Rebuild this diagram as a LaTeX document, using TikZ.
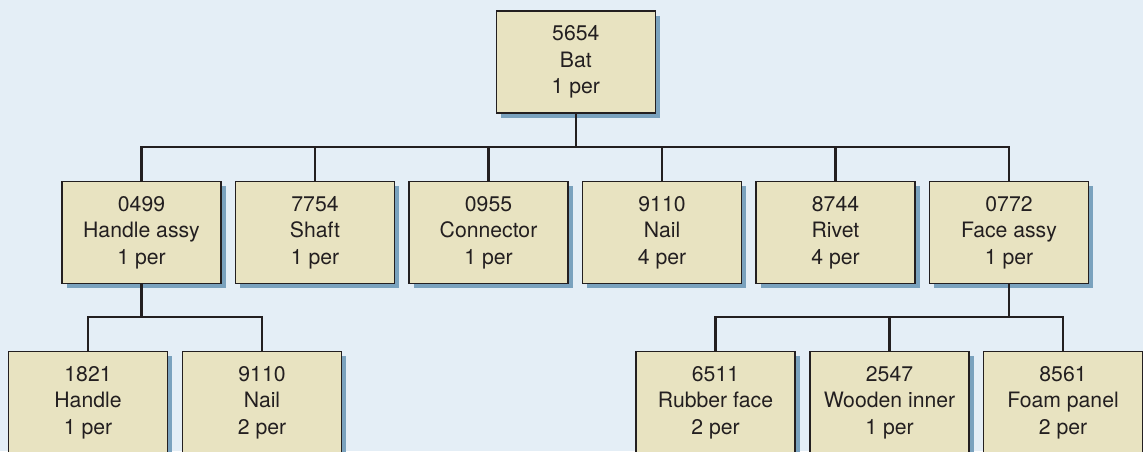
\documentclass[tikz,border=0pt]{standalone}
\usepackage{fontspec}
\setmainfont{TeX Gyre Heros}
\usetikzlibrary{shadows}
\definecolor{bgc}{RGB}{228,238,246}
\definecolor{boxc}{RGB}{232,227,193}
\definecolor{shadc}{RGB}{122,162,190}
\definecolor{linec}{RGB}{35,31,32}
\tikzset{
  part/.style={draw=linec, line width=1.2pt, fill=boxc, minimum width=159pt, minimum height=102pt,
    inner sep=0pt, align=center, text=linec,
    font=\fontsize{21.2pt}{26.3pt}\selectfont,
    drop shadow={shadow xshift=4.5pt, shadow yshift=-4.5pt, fill=shadc, opacity=1}},
  conn/.style={draw=linec, line width=2.4pt}
}
\begin{document}
\begin{tikzpicture}[x=1pt,y=-1pt]
\fill[bgc] (0,0) rectangle (1143,451);
\useasboundingbox (0,0) rectangle (1143,451);
\begin{scope}
\clip (0,0) rectangle (1143,451);
% top
\node[part] (bat) at (575.8,62) {5654\\Bat\\1 per};
% level 2
\node[part] (ha) at (141.5,232.5) {0499\\Handle assy\\1 per};
\node[part] (sh) at (315,232.5) {7754\\Shaft\\1 per};
\node[part] (co) at (488.5,232.5) {0955\\Connector\\1 per};
\node[part] (na) at (662,232.5) {9110\\Nail\\4 per};
\node[part] (ri) at (835.5,232.5) {8744\\Rivet\\4 per};
\node[part] (fa) at (1009,232.5) {0772\\Face assy\\1 per};
% level 3
\node[part] (hd) at (88,402.5) {1821\\Handle\\1 per};
\node[part] (nb) at (262,402.5) {9110\\Nail\\2 per};
\node[part] (rf) at (715.5,402.5) {6511\\Rubber face\\2 per};
\node[part] (wi) at (889.5,402.5) {2547\\Wooden inner\\1 per};
\node[part] (fp) at (1063,402.5) {8561\\Foam panel\\2 per};
% connectors
\coordinate (b1) at (575.8,147);
\coordinate (b2) at (141.5,317);
\coordinate (b3) at (1009,317);
\draw[conn] (bat.south) -- (b1);
\draw[conn] (ha.north) -- (ha.north |- b1) -- (fa.north |- b1) -- (fa.north);
\foreach \n in {sh,co,na,ri} \draw[conn] (\n.north) -- (\n.north |- b1);
\draw[conn] (ha.south) -- (b2);
\draw[conn] (hd.north) -- (hd.north |- b2) -- (nb.north |- b2) -- (nb.north);
\draw[conn] (fa.south) -- (b3);
\draw[conn] (rf.north) -- (rf.north |- b3) -- (fp.north |- b3) -- (fp.north);
\draw[conn] (wi.north) -- (wi.north |- b3);
\end{scope}
\end{tikzpicture}
\end{document}
